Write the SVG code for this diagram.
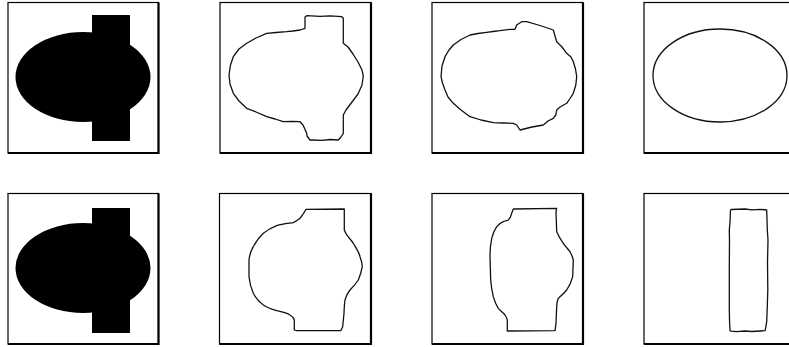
<svg xmlns="http://www.w3.org/2000/svg" width="789" height="347" viewBox="0 0 789 347">
<style>
.frame{fill:#fff;stroke:#000;stroke-width:1.2}
.shadow{fill:none;stroke:#000;stroke-width:2.2}
.solid{fill:#000;stroke:none}
.contour{fill:none;stroke:#111;stroke-width:1.3;stroke-linejoin:round;stroke-linecap:round}
</style>
<rect width="789" height="347" fill="#fff"/>
<g id="panel-1">
<rect class="frame" x="8" y="2.5" width="150.5" height="150.5"/>
<path class="shadow" d="M158.5 2.5V153H8"/>
<ellipse class="solid" cx="83" cy="77" rx="67.5" ry="45"/>
<rect class="solid" x="92" y="15" width="38" height="126"/>
</g>
<g id="panel-2">
<rect class="frame" x="220" y="2.5" width="151" height="150.5"/>
<path class="shadow" d="M371 2.5V153H220"/>
<path class="contour" d="M305 28.3L305 17L306.7 15.7L320 16.3L330 15.8L341.7 16.7L343.3 18.3L343.3 43.3L348 47L353 54L358 62L362 70L363.3 76L362 85L358 94L352 102L346 110L343.3 115L343.3 133.3L341 137L338.3 140L330 139.5L322 140.3L312 140L310 140L307 136L306.7 133.3L303 125L300 121.7L292 121.5L283.3 121.7L275 119L266.7 116.7L256 112L246.7 108.3L239 101L233.3 93.3L230 84L229 75L230.5 65L233.3 56.7L239 49L246.7 43.3L256 38L266.7 33.3L276 32.5L286.7 31.7L293 31L300 30Z"/>
</g>
<g id="panel-3">
<rect class="frame" x="432" y="2.5" width="151" height="150.5"/>
<path class="shadow" d="M583 2.5V153H432"/>
<path class="contour" d="M516.7 25L521.7 21.7L526.7 21.7L540 25.5L553.3 30L555 36L556.7 41.7L562 47L566.7 53.3L571 57L573.3 61.7L575.5 69L576.7 76.7L575.8 85L573.3 93.3L570 98.5L566.7 103.3L560 107L556.7 110L555.8 115L553.3 118.3L548 121L543.3 125L532 127L520 130L516.7 125L513.3 123.3L503 123L493.3 122.7L481 120L470 116.7L461 110L453.3 103.3L448 97L445 90L442.5 83L441 76.7L442 66L445 56.7L449 50L453.3 45L461 39.5L470 35L478 33.5L486.7 32.3L493 31.5L500 30.7L510 29.3L515 29.3Z"/>
</g>
<g id="panel-4">
<rect class="frame" x="644" y="2.5" width="150" height="150.5"/>
<path class="shadow" d="M644 153H789"/>
<ellipse class="contour" cx="720" cy="75.5" rx="67" ry="46.5"/>
</g>
<g id="panel-5">
<rect class="frame" x="8" y="193.5" width="150.5" height="150.5"/>
<path class="shadow" d="M158.5 193.5V344H8"/>
<ellipse class="solid" cx="83" cy="268" rx="67.5" ry="45"/>
<rect class="solid" x="92" y="208" width="38" height="125"/>
</g>
<g id="panel-6">
<rect class="frame" x="219.5" y="193.5" width="151.5" height="150.5"/>
<path class="shadow" d="M371 193.5V344H219.5"/>
<path class="contour" d="M306 209.3L344.3 209L344.3 230C346 236 350 238 353.3 243.3C356 248 359 252 360 256.7C361.5 261 362.3 263 362.3 266.7C361.5 271 360 276 358.3 280C355.5 284 353 287 350 290C347.5 293 346 296 345 300C344.3 304 344.2 309 344 313.3L342.7 326.7L340.7 330.7L296.7 330.7L294.3 330L294.3 320C293 317 292 316 290 315C286 312.5 281 311.5 276.7 310.7C271 309 267 307.5 263.3 305C259 301.5 255.5 298 253.3 293.3C251 288 249.5 282 249 276.7L249 260C249.5 255 251 250.5 253.3 246.7C256 241.5 259.5 237 263.3 233.3C267.5 230 272 227.5 276.7 225.7C282 224 288 223.5 293.3 222.7C296 221.5 298 220 300 218.3C302.5 215.5 304.5 212 306 209.3Z"/>
</g>
<g id="panel-7">
<rect class="frame" x="432" y="193.5" width="151" height="150.5"/>
<path class="shadow" d="M583 193.5V344H432"/>
<path class="contour" d="M513.3 209L556.7 208.3L556 211.7L556.7 231.7C558.5 236 561 240 563.3 243.3C565.5 246.5 568 249 570 251.7C571.5 254.5 572.7 257 573.3 260L572.7 276.7C571.5 281.5 569.5 286 566.7 290C564 293.5 561 296 558.3 298.3C557 301 556.8 304 556.7 306.7L556 323.3L555 330.7L507.3 331L507.3 320C506.8 318 506 316.5 505 315C503 312.5 500.5 311 498.3 308.3C496 305 494.5 301 493.3 296.7C492 291 491 285.5 490.7 280L490 256.7C490 250 490.5 244 491.7 238.3C492.7 234 494.5 230 496.7 226.7C498.5 224.3 501 222.7 503.3 221.7C505 221 507 220.8 508.3 220C510 218.5 511 216 511.7 213.3Z"/>
</g>
<g id="panel-8">
<rect class="frame" x="644" y="193.5" width="150" height="150.5"/>
<path class="shadow" d="M644 344H789"/>
<path class="contour" d="M730.5 210.5L731 209.5L745 209L752 209.8L760 209.3L766.7 210L767.3 230L768 240L767.5 262L767.8 290L767.3 306L766.7 321.7L765.5 329L765 330.7L752 331.5L745 331L736.7 331.7L731 331.2L730 330.7L729.5 320L729.3 306.7L729.3 270L729.5 240L729.3 230L730 222Z"/>
</g>
</svg>
